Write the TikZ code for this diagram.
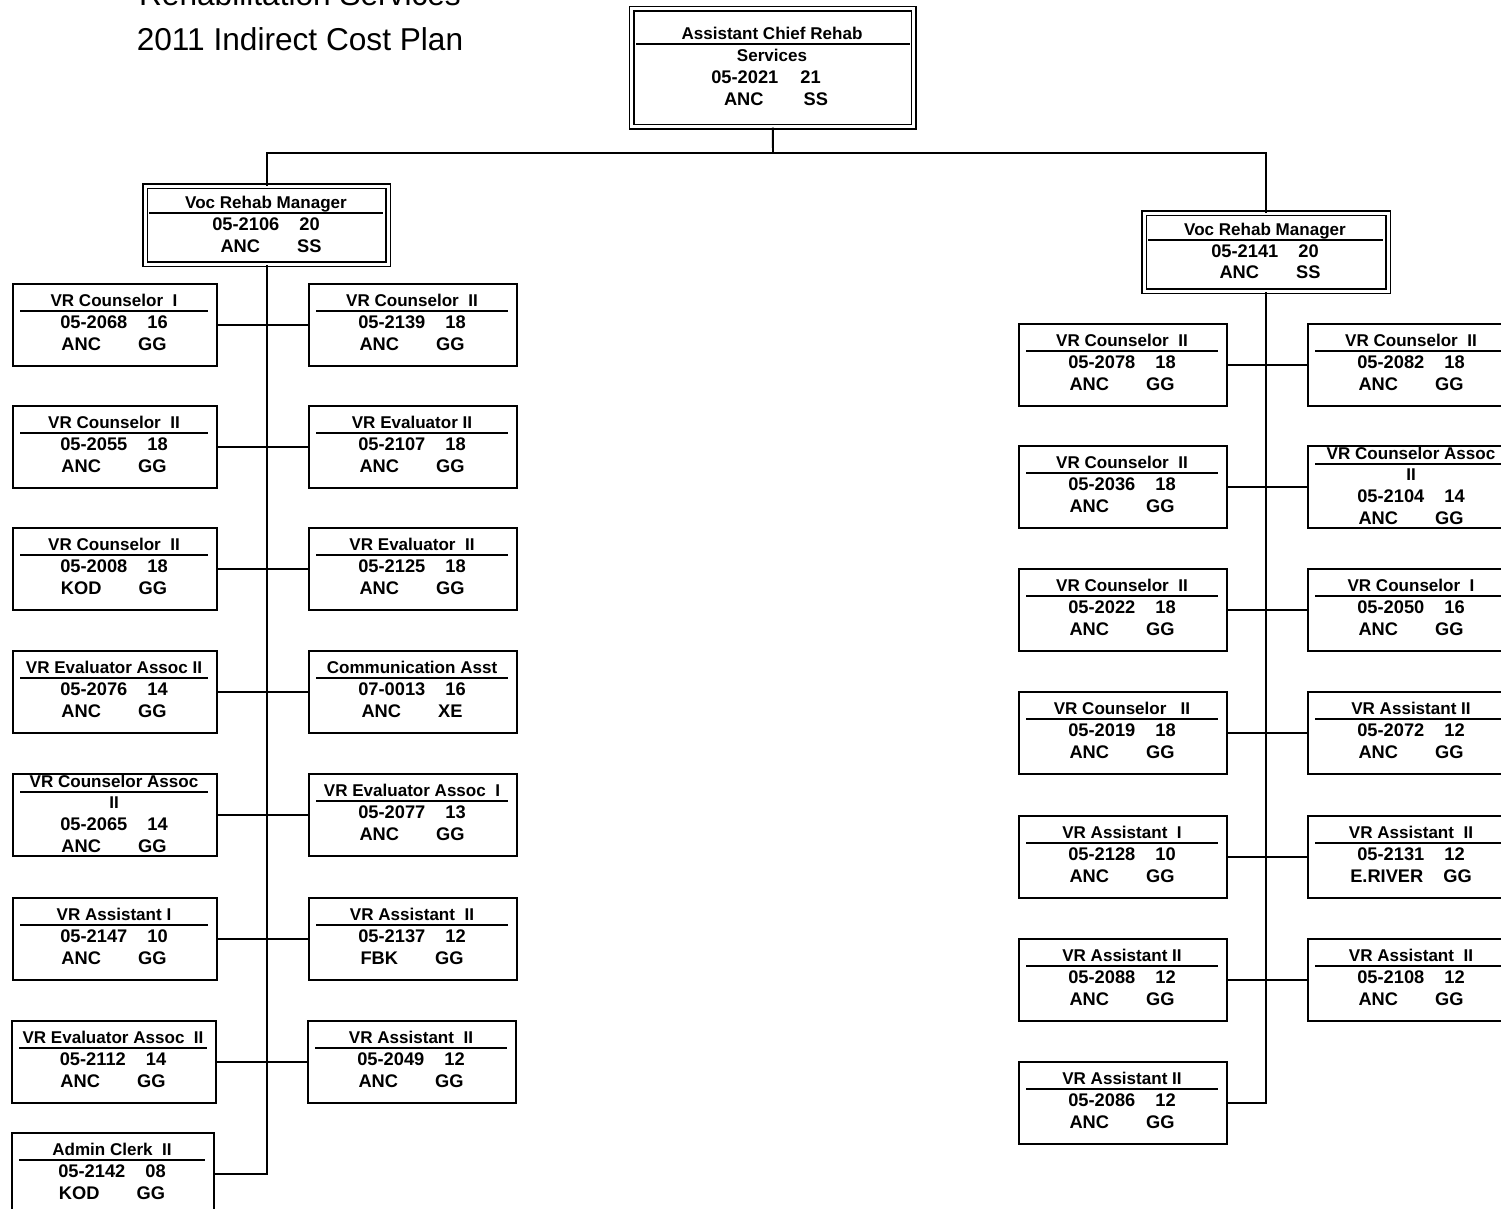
\documentclass[tikz,border=0pt]{standalone}
\usepackage{fontspec}
\setmainfont{Liberation Sans}
\usetikzlibrary{calc}
\newcommand\sepA{\hspace{0.40cm}}
\newcommand\sepB{\hspace{0.74cm}}
\newcommand\sepC{\hspace{0.40cm}}
\tikzset{
  pbox/.style={draw, line width=1.1pt, rectangle, inner sep=0pt, anchor=north west, minimum height={82*0.02cm}},
  mbox/.style={draw, double, line width=0.9pt, double distance=1.5pt, rectangle, inner sep=0pt, anchor=north west},
  txt/.style={anchor=base, inner sep=0pt, font=\fontsize{9.7}{11}\selectfont\bfseries},
  num/.style={anchor=base, inner sep=0pt, font=\fontsize{10.4}{12}\selectfont\bfseries},
  uline/.style={line width=1.1pt},
  conn/.style={line width=1.1pt},
  ttl/.style={anchor=base, inner sep=0pt, font=\fontsize{18}{21}\selectfont}
}
% name, x, y(top), width, title, code line, location line
\newcommand\posbox[7]{%
  \node[pbox, minimum width={#4*0.02cm}] (#1) at (#2,#3) {};
  \node[txt] (#1-t) at ({#2+#4/2},{#3+23}) {#5};
  \draw[uline] ({#2+8},{#3+28}) -- ({#2+#4-8},{#3+28});
  \node[num] (#1-c) at ({#2+#4/2},{#3+45.5}) {#6};
  \node[num] (#1-l) at ({#2+#4/2},{#3+67.5}) {#7};
}
% wrapped title variant: name, x, y, width, title, title2, code line, location line
\newcommand\posboxw[8]{%
  \node[pbox, minimum width={#4*0.02cm}] (#1) at (#2,#3) {};
  \node[txt] (#1-t) at ({#2+#4/2},{#3+14}) {#5};
  \draw[uline] ({#2+8},{#3+19}) -- ({#2+#4-8},{#3+19});
  \node[txt] (#1-u) at ({#2+#4/2},{#3+35}) {#6};
  \node[num] (#1-c) at ({#2+#4/2},{#3+57}) {#7};
  \node[num] (#1-l) at ({#2+#4/2},{#3+79}) {#8};
}
\begin{document}
\begin{tikzpicture}[x=0.02cm, y=-0.02cm]
\useasboundingbox (0,0) rectangle (1501,1208);

% title
\node[ttl] (title1) at (300,5) {Rehabilitation Services};
\node[ttl] (title2) at (300,50) {2011 Indirect Cost Plan};

% top box
\node[mbox, minimum width={282*0.02cm}, minimum height={118*0.02cm}] (top) at (631,8) {};
\node[txt] (top-t) at (772,39) {Assistant Chief Rehab};
\draw[uline] (636,44) -- (910,44);
\node[txt] (top-u) at (772,61) {Services};
\node[num] (top-c) at (766,83) {05-2021\hspace{0.44cm}21};
\node[num] (top-l) at (776,105) {ANC\hspace{0.80cm}SS};

% managers
\node[mbox, minimum width={243*0.02cm}, minimum height={78*0.02cm}] (lm) at (144.5,185.5) {};
\node[txt] (lm-t) at (266,208) {Voc Rehab Manager};
\draw[uline] (149,213) -- (383,213);
\node[num] (lm-c) at (266,230) {05-2106\sepA 20};
\node[num] (lm-l) at (271,252) {ANC\sepB SS};

\node[mbox, minimum width={244*0.02cm}, minimum height={78*0.02cm}] (rm) at (1143.5,212.5) {};
\node[txt] (rm-t) at (1265,235) {Voc Rehab Manager};
\draw[uline] (1148,240) -- (1383,240);
\node[num] (rm-c) at (1265,257) {05-2141\sepA 20};
\node[num] (rm-l) at (1270,278) {ANC\sepB SS};

% left group, left column
\posbox{L1}{12}{283}{204}{VR Counselor~~I}{05-2068\sepA 16}{ANC\sepB GG}
\posbox{L2}{12}{405}{204}{VR Counselor~~II}{05-2055\sepA 18}{ANC\sepB GG}
\posbox{L3}{12}{527}{204}{VR Counselor~~II}{05-2008\sepA 18}{KOD\sepB GG}
\posbox{L4}{12}{650}{204}{VR Evaluator Assoc II}{05-2076\sepA 14}{ANC\sepB GG}
\posboxw{L5}{12}{773}{204}{VR Counselor Assoc}{II}{05-2065\sepA 14}{ANC\sepB GG}
\posbox{L6}{12}{897}{204}{VR Assistant I}{05-2147\sepA 10}{ANC\sepB GG}
\posbox{L7}{11}{1020}{204}{VR Evaluator Assoc~~II}{05-2112\sepA 14}{ANC\sepB GG}
\posbox{L8}{11}{1132}{202}{Admin Clerk~~II}{05-2142\sepA 08}{KOD\sepB GG}

% left group, right column
\posbox{R1}{308}{283}{208}{VR Counselor~~II}{05-2139\sepA 18}{ANC\sepB GG}
\posbox{R2}{308}{405}{208}{VR Evaluator II}{05-2107\sepA 18}{ANC\sepB GG}
\posbox{R3}{308}{527}{208}{VR Evaluator~~II}{05-2125\sepA 18}{ANC\sepB GG}
\posbox{R4}{308}{650}{208}{Communication Asst}{07-0013\sepA 16}{ANC\sepB XE}
\posbox{R5}{308}{773}{208}{VR Evaluator Assoc~~I}{05-2077\sepA 13}{ANC\sepB GG}
\posbox{R6}{308}{897}{208}{VR Assistant~~II}{05-2137\sepA 12}{FBK\sepB GG}
\posbox{R7}{307}{1020}{208}{VR Assistant~~II}{05-2049\sepA 12}{ANC\sepB GG}

% right group, left column
\posbox{A1}{1018}{323}{208}{VR Counselor~~II}{05-2078\sepA 18}{ANC\sepB GG}
\posbox{A2}{1018}{445}{208}{VR Counselor~~II}{05-2036\sepA 18}{ANC\sepB GG}
\posbox{A3}{1018}{568}{208}{VR Counselor~~II}{05-2022\sepA 18}{ANC\sepB GG}
\posbox{A4}{1018}{691}{208}{VR Counselor~~~II}{05-2019\sepA 18}{ANC\sepB GG}
\posbox{A5}{1018}{815}{208}{VR Assistant~~I}{05-2128\sepA 10}{ANC\sepB GG}
\posbox{A6}{1018}{938}{208}{VR Assistant II}{05-2088\sepA 12}{ANC\sepB GG}
\posbox{A7}{1018}{1061}{208}{VR Assistant II}{05-2086\sepA 12}{ANC\sepB GG}

% right group, right column
\posbox{B1}{1307}{323}{208}{VR Counselor~~II}{05-2082\sepA 18}{ANC\sepB GG}
\posboxw{B2}{1307}{445}{208}{VR Counselor Assoc}{II}{05-2104\sepA 14}{ANC\sepB GG}
\posbox{B3}{1307}{568}{208}{VR Counselor~~I}{05-2050\sepA 16}{ANC\sepB GG}
\posbox{B4}{1307}{691}{208}{VR Assistant II}{05-2072\sepA 12}{ANC\sepB GG}
\posbox{B5}{1307}{815}{208}{VR Assistant~~II}{05-2131\sepA 12}{E.RIVER\sepC GG}
\posbox{B6}{1307}{938}{208}{VR Assistant~~II}{05-2108\sepA 12}{ANC\sepB GG}

% connectors
\coordinate (bus) at (773,153);
\draw[conn] (top.south) -- (bus);
\draw[conn] (lm.north) |- (bus) -| (rm.north);
\draw[conn] (lm.south) |- (L8.east);
\draw[conn] (rm.south) |- (A7.east);
\foreach \i in {1,...,7} {\draw[conn] (L\i.east) -- (R\i.west);}
\foreach \i in {1,...,6} {\draw[conn] (A\i.east) -- (B\i.west);}
\end{tikzpicture}
\end{document}
